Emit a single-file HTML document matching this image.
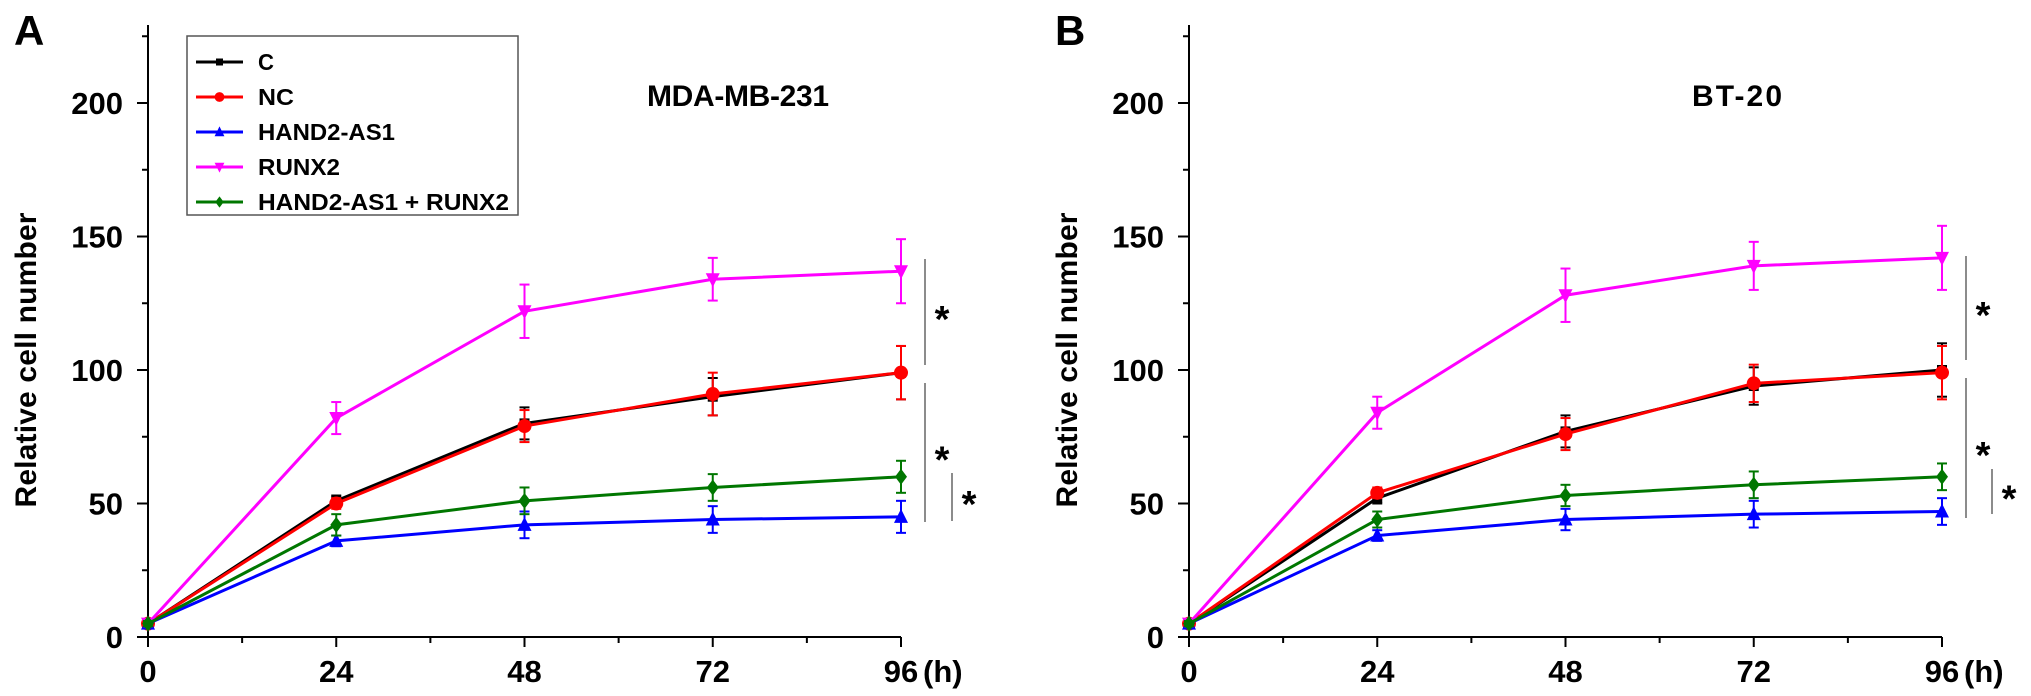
<!DOCTYPE html>
<html><head><meta charset="utf-8"><style>
html,body{margin:0;padding:0;background:#fff;}
svg{display:block;font-family:"Liberation Sans",Arial,sans-serif;font-weight:bold;}
</style></head><body>
<svg id="chart" width="2031" height="696" viewBox="0 0 2031 696" xmlns="http://www.w3.org/2000/svg"></svg>
<script>
const hours = [0, 24, 48, 72, 96];
const xTickLabels = ["0", "24", "48", "72", "96"];
const yTickValues = [0, 50, 100, 150, 200];
const seriesNames = ["C", "NC", "HAND2-AS1", "RUNX2", "HAND2-AS1 + RUNX2"];
const seriesColors = ["#000000", "#ff0000", "#0000ff", "#ff00ff", "#007700"];
const panelLabels = ["A", "B"];
const panelTitles = ["MDA-MB-231", "BT-20"];
// Panel A
const aC = [5, 51, 80, 90, 99];
const aNC = [5, 50, 79, 91, 99];
const aHAND = [5, 36, 42, 44, 45];
const aRUNX = [5, 82, 122, 134, 137];
const aCombo = [5, 42, 51, 56, 60];
const aCErr = [1, 2, 6, 7, 10];
const aNCErr = [1, 2, 6, 8, 10];
const aHANDErr = [1, 2, 5, 5, 6];
const aRUNXErr = [1, 6, 10, 8, 12];
const aComboErr = [1, 4, 5, 5, 6];
// Panel B
const bC = [5, 52, 77, 94, 100];
const bNC = [5, 54, 76, 95, 99];
const bHAND = [5, 38, 44, 46, 47];
const bRUNX = [5, 84, 128, 139, 142];
const bCombo = [5, 44, 53, 57, 60];
const bCErr = [1, 2, 6, 7, 10];
const bNCErr = [1, 2, 6, 7, 10];
const bHANDErr = [1, 2, 4, 5, 5];
const bRUNXErr = [1, 6, 10, 9, 12];
const bComboErr = [1, 3, 4, 5, 5];

const panels = [
  {ox:0, series:[aC,aNC,aHAND,aRUNX,aCombo], errs:[aCErr,aNCErr,aHANDErr,aRUNXErr,aComboErr]},
  {ox:1041, series:[bC,bNC,bHAND,bRUNX,bCombo], errs:[bCErr,bNCErr,bHANDErr,bRUNXErr,bComboErr]}
];
const NS = "http://www.w3.org/2000/svg";
const svg = document.getElementById("chart");
function mk(tag, attrs, parent, text){
  const e = document.createElementNS(NS, tag);
  for (const k in attrs) e.setAttribute(k, attrs[k]);
  if (text !== undefined) e.textContent = text;
  (parent||svg).appendChild(e);
  return e;
}
const Y0 = 637, PXPER = 133.5/50;
function yS(v){ return Y0 - v*PXPER; }
function marker(g, i, x, y, color){
  let m;
  if (i===0) m = mk("rect",{x:x-5,y:y-5,width:10,height:10,fill:color},g);
  else if (i===1) m = mk("circle",{cx:x,cy:y,r:7,fill:color},g);
  else if (i===2) m = mk("polygon",{points:`${x},${y-8} ${x-7},${y+6} ${x+7},${y+6}`,fill:color},g);
  else if (i===3) m = mk("polygon",{points:`${x},${y+8} ${x-7},${y-6} ${x+7},${y-6}`,fill:color},g);
  else m = mk("polygon",{points:`${x},${y-8} ${x-6},${y} ${x},${y+8} ${x+6},${y}`,fill:color},g);
  return m;
}
panels.forEach((p, pi) => {
  const X0 = 148 + p.ox, PXH = 753/96;
  const xS = h => X0 + h*PXH;
  const g = mk("g",{});
  
  
  const lbl = mk("text",{x:14+p.ox,y:45,"font-size":42},g,panelLabels[pi]);
  
  
  const t = mk("text",{x:pi===0?647:1692,y:106,"font-size":30,textLength:pi===0?182:90},g,panelTitles[pi]);
  
  
  const yt = mk("text",{x:0,y:0,"font-size":30,"text-anchor":"middle",textLength:295,transform:`translate(${36+p.ox},360) rotate(-90)`},g,"Relative cell number");
  
  
  const ax = mk("g",{stroke:"#000","stroke-width":2},g);
  
  
  mk("line",{x1:X0,y1:25,x2:X0,y2:Y0+1},ax);
  mk("line",{x1:X0-1,y1:Y0,x2:xS(96),y2:Y0},ax);
  for (let v=0; v<=225; v+=25){
    const major = v%50===0;
    mk("line",{x1:X0,y1:yS(v),x2:X0-(major?11:6),y2:yS(v)},ax);
  }
  yTickValues.forEach(v=>{
    const tl = mk("text",{x:X0-25,y:yS(v)+11,"font-size":31,"text-anchor":"end",fill:"#000"},g,String(v));
    
    
  });
  for (let h=0; h<=96; h+=12){
    const major = h%24===0;
    mk("line",{x1:xS(h),y1:Y0,x2:xS(h),y2:Y0+(major?10:6)},ax);
  }
  hours.forEach((h,i)=>{
    const tl = mk("text",{x:xS(h),y:682,"font-size":31,"text-anchor":"middle"},g,xTickLabels[i]);
    
    
  });
  const hu = mk("text",{x:xS(96)+22,y:682,"font-size":31},g,"(h)");
  
  
  p.series.forEach((vals, si) => {
    const sg = mk("g",{},g);
    
    
    const col = seriesColors[si];
    const pts = vals.map((v,i)=>xS(hours[i])+","+yS(v)).join(" ");
    mk("polyline",{points:pts,fill:"none",stroke:col,"stroke-width":3},sg);
    vals.forEach((v,i)=>{
      const x = xS(hours[i]), e = p.errs[si][i];
      mk("line",{x1:x,y1:yS(v-e),x2:x,y2:yS(v+e),stroke:col,"stroke-width":2},sg);
      mk("line",{x1:x-5,y1:yS(v+e),x2:x+5,y2:yS(v+e),stroke:col,"stroke-width":2},sg);
      mk("line",{x1:x-5,y1:yS(v-e),x2:x+5,y2:yS(v-e),stroke:col,"stroke-width":2},sg);
      const m = marker(sg, si, x, yS(v), col);
      
      
    });
  });
  const sx = xS(96)+24;
  const sig = mk("g",{},g);
  
  
  const brackets = pi===0 ? [[sx,259,365],[sx,383,522],[sx+27,473,521]] : [[sx,256,360],[sx,378,518],[sx+26,469,514]];
  brackets.forEach(b=>{
    mk("line",{x1:b[0],y1:b[1],x2:b[0],y2:b[2],stroke:"#666","stroke-width":1.5},sig);
    mk("text",{x:b[0]+17,y:(b[1]+b[2])/2+20,"font-size":38,"text-anchor":"middle"},sig,"*");
  });
});
const lg = mk("g",{});


mk("rect",{x:187,y:36,width:331,height:179,fill:"#fff",stroke:"#555","stroke-width":1.5},lg);
const legendWidths = [16, 36, 137, 82, 251];
seriesNames.forEach((n,i)=>{
  const y = 62 + i*35;
  const e = mk("g",{},lg);
  
  
  mk("line",{x1:196,y1:y,x2:243,y2:y,stroke:seriesColors[i],"stroke-width":3},e);
  const m = marker(e, i, 219.5, y, seriesColors[i]);
  m.setAttribute("transform",`translate(${219.5*0.3},${y*0.3}) scale(0.7)`);
  mk("text",{x:258,y:y+8,"font-size":23,textLength:legendWidths[i],lengthAdjust:"spacingAndGlyphs"},e,n);
});
</script>
</body></html>
